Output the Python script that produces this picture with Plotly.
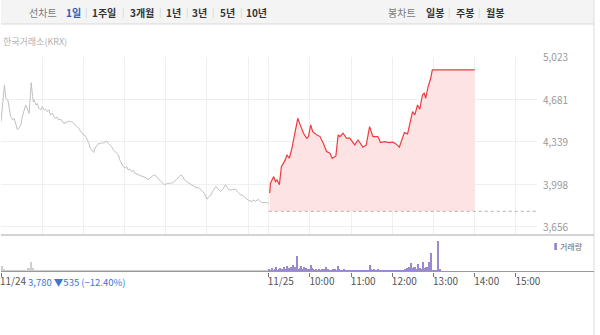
import plotly.graph_objects as go

# ---------------- data ----------------
# x = trading minutes since 11/24 09:00 (11/24 09:00-15:30 -> 0..390, 11/25 09:00-15:30 -> 390..780)
prev_min = [0,5,7,10,14,17,19,22,24,26,29,31,34,36,38,41,42,44,46,47,48,51,53,55,58,60,63,65,67,70,
            72,75,77,79,82,84,87,89,92,94,96,99,101,103,106,108,111,113,116,118,120,123,125,128,130,132,135,137,140,142,
            144,147,149,152,154,156,159,161,164,166,168,171,173,176,178,181,183,185,188,190,193,195,197,202,207,212,214,217,219,221,
            224,226,229,231,233,236,238,241,243,246,248,250,253,255,260,262,265,267,270,274,277,279,284,289,291,294,296,298,300,302,
            306,308,311,313,315,318,320,323,325,327,330,332,337,342,344,347,349,351,354,356,359,361,366,368,371,373,376,378,380,385,388,390]
prev_price = [4500,4795,4688,4674,4541,4514,4527,4474,4434,4447,4474,4541,4594,4634,4607,4567,4647,4813,4701,4661,4674,4634,4647,4607,4594,4621,4594,4599,4581,4594,
              4554,4567,4541,4527,4535,4514,4519,4500,4482,4500,4492,4506,4498,4500,4487,4474,4460,4447,4420,4402,4394,4386,4367,4327,4287,4273,4252,4287,4313,4327,
              4321,4332,4327,4340,4345,4327,4313,4300,4273,4260,4247,4233,4193,4153,4140,4126,4140,4113,4118,4100,4108,4086,4081,4073,4059,4046,4033,4046,4059,4065,
              4073,4059,4046,4033,4019,4006,3993,4001,4006,4001,4011,4006,4019,4033,4059,4073,4059,4033,4019,4006,3993,3985,3971,3966,3958,3939,3926,3899,3878,3894,
              3912,3939,3966,3979,3966,3953,3939,3958,3979,3993,3966,3953,3953,3958,3939,3926,3912,3912,3899,3886,3872,3867,3859,3872,3859,3872,3872,3859,3851,3851,3851,3846]

today_min = [391.4,392.5,397.2,399.7,402,405.5,408.4,411.7,414.1,416.4,419.9,423.7,426.1,428.6,430.9,432.3,435.8,440.6,445.3,447.8,
             451.1,454,459.8,464.7,469.5,474.2,479.1,482.4,487.8,491.1,493.6,498.3,503.1,508,515.2,520,527.2,532,536.9,541.7,
             548.9,552.8,558.6,565.8,570.6,575.3,580.2,584,587.5,592.2,596.1,599.5,602.8,606.7,610,613.9,616.4,618.7,622.1,625.9,628.3,690]
today_price = [3926,4006,4059,4019,4033,3993,4139,4166,4193,4233,4206,4286,4353,4434,4514,4527,4474,4407,4367,4380,
               4474,4420,4394,4380,4327,4260,4247,4206,4225,4394,4380,4407,4367,4367,4313,4353,4295,4313,4460,4380,
               4380,4332,4340,4332,4335,4321,4295,4353,4412,4402,4500,4580,4554,4634,4600,4714,4728,4688,4781,4848,4915,4915]

base_price = 3780
base_range = [390, 780]

# volume (relative units), previous day in 3-minute bins, today in 2-minute bins
prev_vol = [6,3,2,1,2,1,1,2,1,1,2,1,1,4,10,4,2,2,1,2,1,1,2,1,1,1,2,1,1,1,
            1,2,1,1,1,1,2,1,1,1,1,1,2,1,1,1,1,1,1,2,1,1,1,1,1,1,1,2,1,1,
            1,1,1,1,1,2,1,1,1,1,1,1,1,1,1,2,1,1,1,1,1,1,1,1,1,1,2,1,1,1,
            1,1,1,1,1,1,1,1,2,1,1,1,1,1,1,1,1,1,1,1,2,1,1,1,1,1,1,1,1,1,
            1,1,1,1,2,1,1,1,1,1]
today_vol = [3,2,4,2,3,5,2,3,4,3,2,5,3,6,4,3,5,7,4,5,16,3,
             4,6,3,5,2,4,3,3,7,4,3,2,
             3,2,3,2,3,2,3,5,2,3,2,2,3,2,3,2,
             6,3,2,2,3,2,2,2,1,2,1,1,
             1,1,2,1,1,1,2,1,1,2,1,7,
             3,2,3,2,2,3,2,1,2,2,1,
             1,1,2,1,1,1,2,1,1,2,1,2,1,2,
             3,4,3,5,9,4,5,5,3,8,4,4,3,10,4,5,5,10,4,19,2,2,1,0,31,3]

y_ticks = [3656, 3998, 4339, 4681, 5023]
y_tick_vals = [3656, 3997.75, 4339.5, 4681.25, 5023]
x_grid = [60, 120, 180, 240, 300, 360, 390, 450, 510, 570, 630, 690, 750]
x_tick_vals = [0, 390, 450, 510, 570, 630, 690, 750]
x_tick_text = ["11/24", "11/25", "10:00", "11:00", "12:00", "13:00", "14:00", "15:00"]

period_tabs = ["1일", "1주일", "3개월", "1년", "3년", "5년", "10년"]
candle_tabs = ["일봉", "주봉", "월봉"]

# ---------------- figure ----------------
W, H = 600, 335
def py(p):
    return 1 - p / H
def px(p):
    return p / W

FONT = "Noto Sans CJK KR"
fig = go.Figure()

fig.add_trace(go.Scatter(x=prev_min, y=prev_price, mode="lines",
                         line=dict(color="#c0c0c0", width=1), hoverinfo="skip"))
# fill polygon for today
fx = today_min + [today_min[-1], today_min[0]]
fy = today_price + [base_price, base_price]
fig.add_trace(go.Scatter(x=fx, y=fy, mode="lines", fill="toself", fillcolor="#fde3e4",
                         line=dict(width=0), hoverinfo="skip"))
fig.add_trace(go.Scatter(x=base_range, y=[base_price, base_price], mode="lines",
                         line=dict(color="#b4b4b4", width=1, dash="dot"), hoverinfo="skip"))
fig.add_trace(go.Scatter(x=today_min, y=today_price, mode="lines",
                         line=dict(color="#ee3b3f", width=1.2), hoverinfo="skip"))

fig.add_trace(go.Bar(x=[3 * i + 1.5 for i in range(len(prev_vol))], y=prev_vol, width=2.4,
                     marker=dict(color="#cfcfcf", line=dict(width=0)), xaxis="x2", yaxis="y2"))
fig.add_trace(go.Bar(x=[390 + 2 * i + 1 for i in range(len(today_vol))], y=today_vol, width=1.7,
                     marker=dict(color="#9a88d0", line=dict(width=0)), xaxis="x2", yaxis="y2"))

shapes = []
# top bar
shapes.append(dict(type="rect", xref="paper", yref="paper", x0=0, x1=px(598), y0=py(24), y1=py(0),
                   fillcolor="#f4f4f4", line=dict(width=0), layer="below"))
shapes.append(dict(type="line", xref="paper", yref="paper", x0=0, x1=px(598), y0=py(24), y1=py(24),
                   line=dict(color="#d9d9d9", width=1)))
# right border
shapes.append(dict(type="line", xref="paper", yref="paper", x0=px(598), x1=px(598), y0=0, y1=1,
                   line=dict(color="#dddddd", width=1)))
# divider between price and volume
shapes.append(dict(type="line", xref="paper", yref="paper", x0=0, x1=px(598), y0=py(235), y1=py(235),
                   line=dict(color="#a8a8a8", width=1)))
# volume baseline
shapes.append(dict(type="line", xref="paper", yref="paper", x0=0, x1=px(598), y0=py(271.5), y1=py(271.5),
                   line=dict(color="#9a9a9a", width=1)))
# legend swatch
shapes.append(dict(type="rect", xref="paper", yref="paper", x0=px(558), x1=px(560.5), y0=py(250), y1=py(243),
                   fillcolor="#8d7dca", line=dict(width=0)))

ann = []
ann.append(dict(text="선차트", x=px(42), y=py(13), font=dict(size=10, color="#7a7a7a", family=FONT)))
tab_x = [73, 104, 142, 174, 200, 228, 258]
for i, t in enumerate(period_tabs):
    col = "#2f5cb3" if i == 0 else "#333333"
    ann.append(dict(text="<b>%s</b>" % t, x=px(tab_x[i]), y=py(13), font=dict(size=10, color=col, family=FONT)))
for sx in [86, 123, 160, 188, 214, 242, 452, 482]:
    ann.append(dict(text="|", x=px(sx), y=py(13), font=dict(size=9, color="#d0d0d0", family=FONT)))
ann.append(dict(text="봉차트", x=px(404), y=py(13), font=dict(size=10, color="#7a7a7a", family=FONT)))
for t, cx in zip(candle_tabs, [437.5, 467.5, 498]):
    ann.append(dict(text="<b>%s</b>" % t, x=px(cx), y=py(13), font=dict(size=10, color="#333333", family=FONT)))
ann.append(dict(text="한국거래소(KRX)", x=0, y=py(41), xanchor="left",
                font=dict(size=9, color="#b0b0b0", family=FONT)))
ann.append(dict(text="거래량", x=px(562), y=py(246.5), xanchor="left",
                font=dict(size=8, color="#666666", family=FONT)))
ann.append(dict(text="3,780 ▼535 (−12.40%)", x=px(25), y=py(282), xanchor="left",
                font=dict(size=9.5, color="#3a78d4", family=FONT)))
for a in ann:
    a.setdefault("xanchor", "center")
    a.update(xref="paper", yref="paper", yanchor="middle", showarrow=False)
# price-axis labels, placed on the y axis scale
for v, lab in zip(y_tick_vals, y_ticks):
    ann.append(dict(text="{:,}".format(lab), xref="paper", x=px(545), yref="y", y=v,
                    xanchor="left", yanchor="middle", showarrow=False,
                    font=dict(size=10, color="#999999", family=FONT)))

fig.update_layout(
    width=W, height=H, margin=dict(l=0, r=0, t=0, b=0),
    paper_bgcolor="white", plot_bgcolor="rgba(0,0,0,0)",
    showlegend=False, bargap=0, barmode="overlay",
    shapes=shapes, annotations=ann,
    font=dict(family=FONT),
    xaxis=dict(domain=[0, 0.9], range=[0, 780], tickvals=x_grid, showticklabels=False,
               showgrid=True, gridcolor="#efefef", gridwidth=1, zeroline=False, showline=False, fixedrange=True),
    yaxis=dict(domain=[py(235), py(56.5)], range=[3590, 5023], side="right",
               tickvals=y_tick_vals, showticklabels=False,
               showgrid=True, gridcolor="#efefef", zeroline=False, showline=False),
    xaxis2=dict(domain=[0, 0.9], range=[0, 780], anchor="y2", tickvals=x_tick_vals, ticktext=x_tick_text,
                ticks="outside", ticklen=4, tickcolor="#777777", tickwidth=1, showgrid=False,
                zeroline=False, showline=False, ticklabelshift=12, ticklabelstandoff=-4,
                ticklabeloverflow="allow",
                tickfont=dict(size=10, color="#555555", family=FONT)),
    yaxis2=dict(domain=[py(271.5), py(236)], range=[0, 35.5], anchor="x2", showticklabels=False,
                showgrid=False, zeroline=False, showline=False),
)

fig.write_html("out.html")
